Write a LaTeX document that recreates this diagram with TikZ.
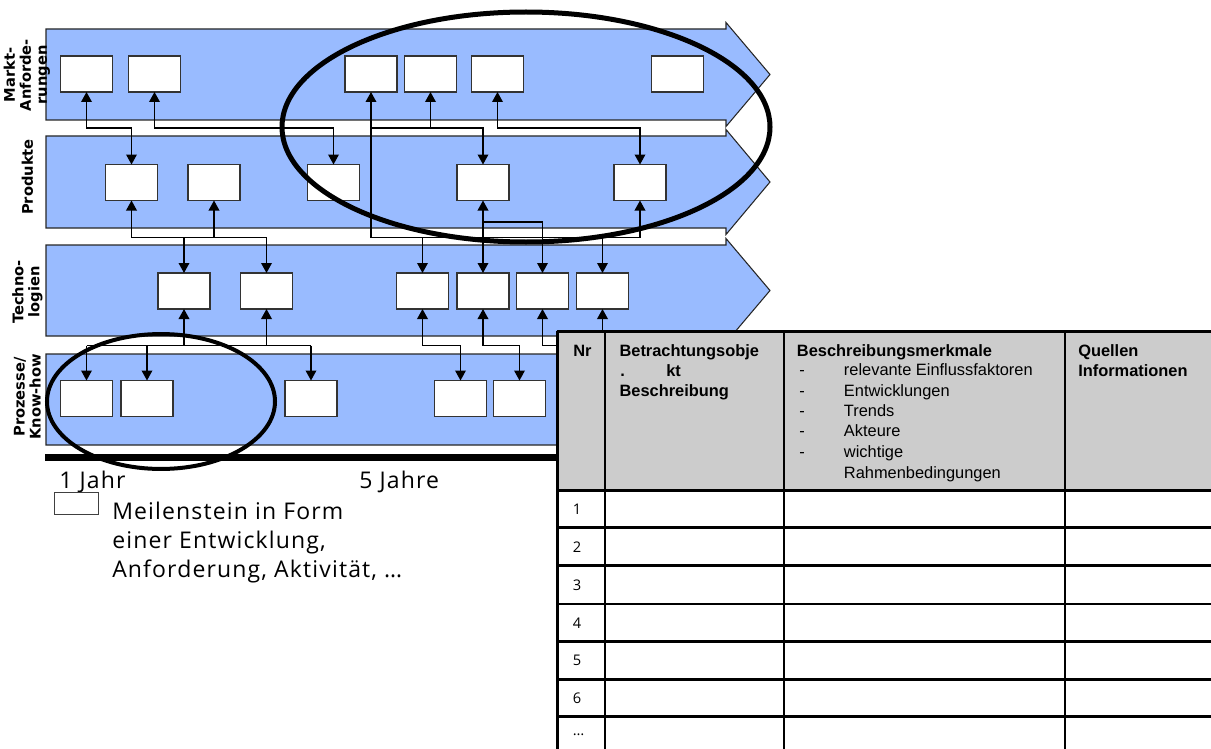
\documentclass[tikz,border=0pt]{standalone}
\usepackage{fontspec}
\setmainfont{Liberation Sans}
\newfontfamily\lblfont{DejaVu Sans}
\newfontfamily\notefont[LetterSpace=5]{Open Sans}
\newfontfamily\numfont{Open Sans}
\usetikzlibrary{arrows.meta}

\definecolor{bandblue}{RGB}{153,187,255}
\definecolor{hdrgray}{RGB}{204,204,204}

\begin{document}
\begin{tikzpicture}[x=0.75pt,y=-0.75pt,
  >={Triangle[width=8pt,length=7.5pt]},
  band/.style={fill=bandblue,draw=black!85,line width=0.8pt},
  ms/.style={draw=black!80,fill=white,line width=0.9pt,minimum width=39pt,
    minimum height=27pt,inner sep=0pt,outer sep=0pt},
  link/.style={line width=1pt,draw=black},
  rowlbl/.style={rotate=90,align=center,inner sep=0pt,
    font=\lblfont\bfseries\fontsize{11}{12}\selectfont},
  note/.style={anchor=base west,inner sep=0pt,
    font=\notefont\fontsize{17.25}{21.75}\selectfont},
  hd/.style={anchor=base west,inner sep=0pt,
    font=\bfseries\fontsize{12.3}{15}\selectfont},
  tx/.style={anchor=base west,inner sep=0pt,
    font=\fontsize{12.3}{15}\selectfont},
  nr/.style={anchor=west,inner sep=0pt,
    font=\numfont\fontsize{11}{13}\selectfont},
  grid/.style={line width=2pt,draw=black}]

\useasboundingbox (0,0) rectangle (1211,749);

% four swim lanes drawn as arrows
\foreach \t/\b in {29/120,136/228,245/336,354/445}{
  \draw[band] (46,\t) -- (726,\t) -- (726,{\t-6.5}) -- (770,{(\t+\b)/2})
    -- (726,{\b+6.5}) -- (726,\b) -- (46,\b) -- cycle;
}

% lane titles
\node[rowlbl] (lblM) at (27,75) {Markt-\\Anforde-\\rungen};
\node[rowlbl] (lblP) at (27.5,177) {Produkte};
\node[rowlbl] (lblT) at (27.5,292) {Techno-\\logien};
\node[rowlbl] (lblK) at (27.5,397) {Prozesse/\\Know-how};

% milestones: market requirements
\node[ms] (M1) at (86.5,74) {};
\node[ms] (M2) at (154.5,74) {};
\node[ms] (M3) at (371,74) {};
\node[ms] (M4) at (430.5,74) {};
\node[ms] (M5) at (497.5,74) {};
\node[ms] (M6) at (677.5,74) {};
% products
\node[ms] (P1) at (131.5,182.5) {};
\node[ms] (P2) at (214,182.5) {};
\node[ms] (P3) at (333.5,182.5) {};
\node[ms] (P4) at (483,182.5) {};
\node[ms] (P5) at (640,182.5) {};
% technologies
\node[ms] (T1) at (184,291) {};
\node[ms] (T2) at (266.5,291) {};
\node[ms] (T3) at (422.5,291) {};
\node[ms] (T4) at (483,291) {};
\node[ms] (T5) at (542.5,291) {};
\node[ms] (T6) at (602.5,291) {};
% processes / know-how
\node[ms] (K1) at (86.5,398.5) {};
\node[ms] (K2) at (147,398.5) {};
\node[ms] (K3) at (311,398.5) {};
\node[ms] (K4) at (460.5,398.5) {};
\node[ms] (K5) at (519.5,398.5) {};

% routing levels between the lanes
\coordinate (g1) at (0,128);
\coordinate (g2) at (0,237.5);
\coordinate (g3) at (0,345.5);
\coordinate (g5) at (0,222);
\coordinate (t5end) at (600,345.5);
\coordinate (t6end) at (602.5,345.5);

% market -> products
\draw[link,<->] (M1.south) -- (M1.south |- g1) -- (P1.north |- g1) -- (P1.north);
\draw[link,<->] (M2.south) -- (M2.south |- g1) -- (P3.north |- g1) -- (P3.north);
\draw[link,<->] (M3.south) -- (M3.south |- g2) -- (P5.south |- g2) -- (P5.south);
\draw[link] (M3.south |- g1) -- (M4.south |- g1);
\draw[link,<->] (M4.south) -- (M4.south |- g1) -- (P4.north |- g1) -- (P4.north);
\draw[link,<->] (M5.south) -- (M5.south |- g1) -- (P5.north |- g1) -- (P5.north);
% products -> technologies
\draw[link,->] (T3.north |- g2) -- (T3.north);
\draw[link,->] (T6.north |- g2) -- (T6.north);
\draw[link,<->] (P1.south) -- (P1.south |- g2) -- (T2.north |- g2) -- (T2.north);
\draw[link,<-] (P2.south) -- (P2.south |- g2);
\draw[link,->] (T1.north |- g2) -- (T1.north);
\draw[link,<->] (P4.south) -- (T4.north);
\draw[link,->] (P4.south |- g5) -- (T5.north |- g5) -- (T5.north);
% technologies -> processes
\draw[link] (K1.north |- g3) -- (K3.north |- g3);
\draw[link,<-] (T1.south) -- (T1.south |- g3);
\draw[link,<-] (T2.south) -- (T2.south |- g3);
\draw[link,->] (K1.north |- g3) -- (K1.north);
\draw[link,->] (K2.north |- g3) -- (K2.north);
\draw[link,->] (K3.north |- g3) -- (K3.north);
\draw[link,<->] (T3.south) -- (T3.south |- g3) -- (K4.north |- g3) -- (K4.north);
\draw[link,<->] (T4.south) -- (T4.south |- g3) -- (K5.north |- g3) -- (K5.north);
\draw[link,<-] (T5.south) -- (T5.south |- g3) -- (t5end);
\draw[link,<-] (T6.south) -- (t6end);

% highlighted areas
\draw[line width=3.75pt] (526,127) ellipse [x radius=183pt, y radius=86.25pt];
\draw[line width=3pt] (161,401.5) ellipse [x radius=85.5pt, y radius=50.6pt];

% time axis
\fill[black] (45,454) rectangle (575,461);
\node[note] (y1) at (59,488) {1 Jahr};
\node[note] (y5) at (359,488) {5 Jahre};

% legend
\node[draw=black!75,line width=0.6pt,minimum width=33pt,minimum height=16.5pt,
  inner sep=0pt] (legbox) at (76,503) {};
\node[note] (leg1) at (112,519) {Meilenstein in Form};
\node[note] (leg2) at (112,548) {einer Entwicklung,};
\node[note] (leg3) at (112,577) {Anforderung, Aktivität, \ldots};

% description table
\fill[hdrgray] (557.5,331.5) rectangle (1215,490.7);
\fill[white] (557.5,490.7) rectangle (1215,760);
\foreach \y in {331.5,490.7,527.7,565.7,604,641.7,679.3,716.7}
  \draw[grid] (556.5,\y) -- (1215,\y);
\foreach \x in {557.5,605,784,1065}
  \draw[grid] (\x,330.5) -- (\x,760);

\node[hd] (hNr) at (573,356) {Nr};
\node[hd] (hObjA) at (619.3,356) {Betrachtungsobje};
\node[hd] (hObjB) at (620,376) {.};
\node[hd] (hObjC) at (666,376) {kt};
\node[hd] (hObjD) at (619.3,396.5) {Beschreibung};
\node[hd] (hMerk) at (796.7,356) {Beschreibungsmerkmale};
\foreach \yy/\txt [count=\i] in {375.7/relevante Einflussfaktoren,396/Entwicklungen,
    416.3/Trends,436.7/Akteure,457/wichtige}{
  \node[tx] (dash\i) at (799,\yy) {-};
  \node[tx] (item\i) at (843.7,\yy) {\txt};
}
\node[tx] (item6) at (843.7,478) {Rahmenbedingungen};
\node[hd] (hQuA) at (1078,356) {Quellen};
\node[hd] (hQuB) at (1078,376) {Informationen};

\foreach \yy/\txt [count=\i] in {509.2/1,546.7/2,584.9/3,622.9/4,660.5/5,698/6}
  \node[nr] (nr\i) at (572.5,\yy) {\txt};
\node[nr] (nr7) at (572.5,735) {\ldots};

\end{tikzpicture}
\end{document}
